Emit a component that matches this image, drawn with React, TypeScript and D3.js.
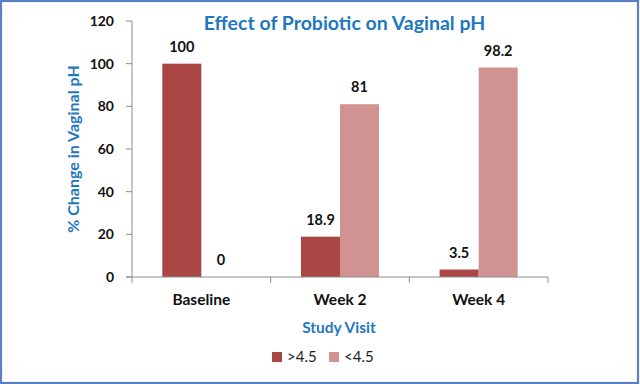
import React from 'react';
import * as d3 from 'd3';

const categories = ['Baseline', 'Week 2', 'Week 4'];
const seriesNames = ['>4.5', '<4.5'];
const above45 = [100, 18.9, 3.5];
const below45 = [0, 81, 98.2];
const labelsAbove = ['100', '18.9', '3.5'];
const labelsBelow = ['0', '81', '98.2'];
const yTicks = [0, 20, 40, 60, 80, 100, 120];

const W = 640;
const H = 384;
const FONT = 'Lato, "Open Sans", sans-serif';
const BLUE = '#1f78bd';
const COLORS = ['#aa4643', '#d09391'];

export default function App() {
  const margin = { left: 132, right: 92, top: 21, bottom: 107 };
  const innerH = H - margin.top - margin.bottom;

  const x = d3.scaleBand<string>()
    .domain(categories)
    .range([margin.left, W - margin.right])
    .paddingInner(0.437)
    .paddingOuter(0.2185);

  const x1 = d3.scaleBand<string>()
    .domain(seriesNames)
    .range([0, x.bandwidth()]);

  const y = d3.scaleLinear().domain([0, 120]).range([margin.top + innerH, margin.top]);

  const series = [
    { name: seriesNames[0], values: above45, labels: labelsAbove },
    { name: seriesNames[1], values: below45, labels: labelsBelow },
  ];

  const step = x.step();
  const boundaries = d3.range(categories.length + 1).map(i => margin.left + i * step);
  const y0 = y(0);

  return (
    <svg width={W} height={H} style={{ position: 'absolute', left: 0, top: 0, background: '#fff' }}>
      {/* outer frame */}
      <rect x={1} y={1} width={W - 3} height={H - 2} fill="#fff" stroke="#5b7fc4" strokeWidth={2.2} />

      <text x={344.5} y={30} textAnchor="middle" fill={BLUE} fontFamily={FONT} fontSize={19.5} fontWeight={700}>
        Effect of Probiotic on Vaginal pH
      </text>

      {/* y axis */}
      <line x1={margin.left} x2={margin.left} y1={y(120)} y2={y0} stroke="#8c8c8c" />
      {yTicks.map(t => (
        <g key={t}>
          <line x1={margin.left - 6} x2={margin.left} y1={y(t)} y2={y(t)} stroke="#8c8c8c" />
          <text x={margin.left - 18} y={y(t) + 5} textAnchor="end" fontFamily={FONT} fontSize={14} fontWeight={700} fill="#111">
            {t}
          </text>
        </g>
      ))}
      <text
        transform={`translate(79,${(y(0) + y(120)) / 2}) rotate(-90)`}
        textAnchor="middle"
        fill={BLUE}
        fontFamily={FONT}
        fontSize={16}
        fontWeight={700}
      >
        % Change in Vaginal pH
      </text>

      {/* bars */}
      {series.map((s, si) => (
        <g key={s.name}>
          {categories.map((c, ci) => {
            const bx = (x(c) || 0) + (x1(s.name) || 0);
            const by = y(s.values[ci]);
            return (
              <g key={c}>
                <rect x={bx} y={by} width={x1.bandwidth()} height={y0 - by} fill={COLORS[si]} />
                <text
                  x={bx + x1.bandwidth() / 2}
                  y={by - 12}
                  textAnchor="middle"
                  fontFamily={FONT}
                  fontSize={14.5}
                  fontWeight={700}
                  fill="#111"
                >
                  {s.labels[ci]}
                </text>
              </g>
            );
          })}
        </g>
      ))}

      {/* x axis */}
      <line x1={margin.left - 6} x2={W - margin.right} y1={y0} y2={y0} stroke="#8c8c8c" />
      {boundaries.map((bx, i) => (
        <line key={i} x1={bx} x2={bx} y1={y0} y2={y0 + 6} stroke="#8c8c8c" />
      ))}
      {categories.map(c => (
        <text
          key={c}
          x={(x(c) || 0) + x.bandwidth() / 2}
          y={305}
          textAnchor="middle"
          fontFamily={FONT}
          fontSize={15.5}
          fontWeight={700}
          fill="#111"
        >
          {c}
        </text>
      ))}
      <text x={339} y={333} textAnchor="middle" fill={BLUE} fontFamily={FONT} fontSize={15.5} fontWeight={700}>
        Study Visit
      </text>

      {/* legend */}
      {seriesNames.map((n, i) => (
        <g key={n} transform={`translate(${272 + i * 57},352)`}>
          <rect x={0} y={0} width={10} height={10} fill={COLORS[i]} />
          <text x={15} y={10} fontFamily={FONT} fontSize={15} fill="#222">
            {n}
          </text>
        </g>
      ))}
    </svg>
  );
}
